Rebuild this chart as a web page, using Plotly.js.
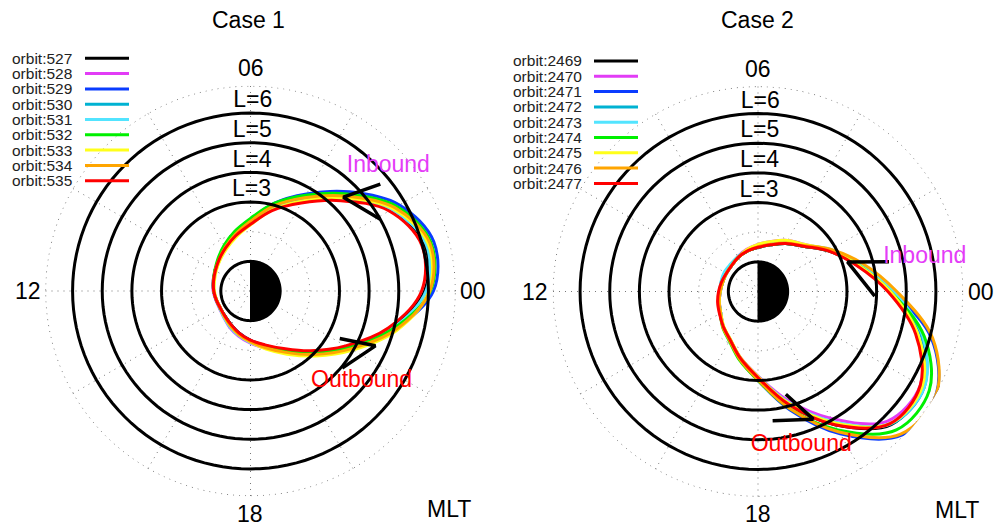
<!DOCTYPE html>
<html>
<head>
<meta charset="utf-8">
<script src="https://cdn.plot.ly/plotly-3.0.1.min.js"></script>
<style>html,body{margin:0;padding:0;background:#fff}#chart{width:1005px;height:529px}</style>
</head>
<body>
<div id="chart"></div>
<script>
// ---------------- DATA ----------------
// MLT sample hours (00 = right, 06 = top, 12 = left, 18 = bottom)
const mltHours = [0,1,2,3,4,5,6,7,8,9,10,11,12,13,14,15,16,17,18,19,20,21,22,23];

const orbitColors = ['#000000','#e23cf6','#0a3cff','#00b2d2','#52e4ff','#00f000','#ffff1a','#ffa500','#ff0000'];

// Case 1: L-shell of each orbit at each MLT hour
const case1Names = ['orbit:527','orbit:528','orbit:529','orbit:530','orbit:531','orbit:532','orbit:533','orbit:534','orbit:535'];
const orbit527 = [5.87,6.08,5.48,4.39,3.49,2.85,2.27,1.93,1.68,1.50,1.37,1.29,1.24,1.19,1.17,1.21,1.31,1.47,1.66,1.92,2.29,2.90,3.75,4.86];
const orbit528 = [5.95,6.16,5.52,4.43,3.53,2.87,2.27,1.93,1.68,1.50,1.38,1.31,1.26,1.21,1.20,1.27,1.41,1.57,1.76,2.00,2.39,3.03,3.88,5.01];
const orbit529 = [6.17,6.40,5.80,4.73,3.78,3.06,2.40,2.01,1.73,1.50,1.37,1.29,1.24,1.19,1.17,1.21,1.31,1.47,1.66,1.90,2.29,2.93,3.82,5.01];
const orbit530 = [5.97,6.18,5.55,4.46,3.55,2.89,2.28,1.93,1.68,1.50,1.37,1.29,1.24,1.19,1.18,1.24,1.36,1.52,1.71,1.96,2.34,2.97,3.82,4.96];
const orbit531 = [5.92,6.13,5.50,4.41,3.51,2.86,2.25,1.91,1.65,1.47,1.35,1.27,1.23,1.19,1.19,1.26,1.39,1.55,1.74,1.98,2.34,2.95,3.80,4.93];
const orbit532 = [6.07,6.30,5.70,4.63,3.73,3.06,2.45,2.08,1.78,1.55,1.39,1.30,1.24,1.19,1.17,1.21,1.32,1.49,1.68,1.93,2.32,2.93,3.80,4.96];
const orbit533 = [6.02,6.20,5.55,4.43,3.51,2.83,2.23,1.88,1.63,1.46,1.34,1.26,1.22,1.18,1.17,1.24,1.36,1.52,1.72,2.03,2.46,3.10,3.98,5.11];
const orbit534 = [6.05,6.26,5.62,4.53,3.63,2.96,2.35,1.98,1.70,1.50,1.37,1.29,1.24,1.19,1.17,1.23,1.36,1.52,1.71,1.98,2.39,3.03,3.90,5.06];
const orbit535 = [5.77,5.98,5.40,4.31,3.43,2.81,2.25,1.93,1.68,1.50,1.37,1.29,1.24,1.19,1.17,1.21,1.31,1.47,1.66,1.88,2.24,2.85,3.70,4.81];

// Case 2
const case2Names = ['orbit:2469','orbit:2470','orbit:2471','orbit:2472','orbit:2473','orbit:2474','orbit:2475','orbit:2476','orbit:2477'];
const orbit2469 = [4.43,3.46,2.74,2.16,1.87,1.63,1.49,1.41,1.33,1.25,1.23,1.25,1.30,1.38,1.48,1.66,1.88,2.32,2.90,3.93,5.19,6.35,6.37,5.55];
const orbit2470 = [4.43,3.46,2.77,2.24,1.99,1.75,1.59,1.47,1.36,1.25,1.23,1.23,1.27,1.35,1.45,1.66,1.88,2.30,2.85,3.78,4.94,6.18,6.32,5.55];
const orbit2471 = [4.53,3.51,2.77,2.16,1.87,1.63,1.49,1.41,1.33,1.25,1.23,1.23,1.27,1.35,1.45,1.66,1.90,2.37,3.00,4.13,5.54,6.85,6.94,6.05];
const orbit2472 = [4.53,3.55,2.82,2.20,1.91,1.67,1.51,1.43,1.35,1.29,1.28,1.28,1.29,1.36,1.45,1.66,1.88,2.32,2.88,3.88,5.11,6.33,6.47,5.70];
const orbit2473 = [4.58,3.58,2.84,2.21,1.92,1.68,1.52,1.43,1.36,1.31,1.31,1.29,1.29,1.36,1.45,1.66,1.88,2.32,2.87,3.85,5.07,6.30,6.47,5.75];
const orbit2474 = [4.46,3.48,2.76,2.16,1.87,1.63,1.49,1.41,1.33,1.25,1.23,1.23,1.28,1.37,1.47,1.69,1.93,2.40,3.00,4.08,5.39,6.60,6.67,5.80];
const orbit2475 = [4.46,3.48,2.79,2.24,1.99,1.75,1.59,1.46,1.33,1.25,1.23,1.23,1.27,1.35,1.45,1.64,1.86,2.30,2.87,3.88,5.11,6.30,6.40,5.58];
const orbit2476 = [4.68,3.65,2.84,2.19,1.89,1.65,1.51,1.41,1.33,1.25,1.23,1.23,1.28,1.36,1.46,1.68,1.91,2.37,2.98,4.08,5.47,6.80,6.94,6.10];
const orbit2477 = [4.38,3.43,2.74,2.16,1.87,1.63,1.49,1.41,1.33,1.25,1.23,1.27,1.33,1.41,1.50,1.66,1.88,2.32,2.90,3.93,5.19,6.30,6.32,5.50];

// Reference L shells and labels
const lShells = [3,4,5,6];
const lLabels = ['L=3','L=4','L=5','L=6'];
const hourTickHours = [0,6,12,18];
const hourTickLabels = ['00','06','12','18'];

// Direction chevrons (L, MLT hour)
const c1InR = [5.67,4.45,5.00], c1InH = [2.63,3.02,1.93];
const c1OutR = [3.41,4.60,4.04], c1OutH = [22.13,22.42,21.33];
const c2InR = [4.53,3.18,3.94], c2InH = [0.85,1.22,23.85];
const c2OutR = [3.59,4.69,4.39], c2OutH = [19.01,19.56,18.43];
// Annotation text positions (L, MLT hour)
const c1InText = [6.27, 2.81], c1OutText = [4.83, 21.39];
const c2InText = [5.74, 0.77], c2OutText = [5.37, 19.05];
const mltTextPos = [9.95, 20.82];

// ---------------- BUILD ----------------
const FONT = 'Liberation Sans, Arial, Helvetica, sans-serif';
const RMAX = 6.93;
const DOTS = '1px,5px';
const h2d = h => h * 15;
const thetaClosed = mltHours.map(h2d).concat([h2d(mltHours[0])]);
const close = arr => arr.concat([arr[0]]);
const circleTheta = []; for (let a = 0; a <= 360; a += 3) circleTheta.push(a);
const nightTheta = []; for (let a = -90; a <= 90; a += 3) nightTheta.push(a);

function caseTraces(sub, orbits, inR, inH, outR, outH, inText, outText) {
  const tr = [];
  // outer dotted boundary
  tr.push({type:'scatterpolar', subplot:sub, mode:'lines', r:circleTheta.map(() => RMAX - 0.02), theta:circleTheta,
    line:{color:'#777', width:1, dash:DOTS}, hoverinfo:'skip'});
  orbits.forEach((r, i) => {
    tr.push({type:'scatterpolar', subplot:sub, mode:'lines', r:close(r), theta:thetaClosed,
      line:{color:orbitColors[i], width:3, shape:'spline'}, hoverinfo:'skip'});
  });
  lShells.forEach(L => {
    tr.push({type:'scatterpolar', subplot:sub, mode:'lines', r:circleTheta.map(() => L), theta:circleTheta,
      line:{color:'#000', width:3}, hoverinfo:'skip'});
  });
  // Earth: night half filled, outline
  tr.push({type:'scatterpolar', subplot:sub, mode:'lines', r:nightTheta.map(() => 1).concat([0, 1]),
    theta:nightTheta.concat([0, -90]), fill:'toself', fillcolor:'#000', line:{color:'#000', width:1}, hoverinfo:'skip'});
  tr.push({type:'scatterpolar', subplot:sub, mode:'lines', r:circleTheta.map(() => 1), theta:circleTheta,
    line:{color:'#000', width:3}, hoverinfo:'skip'});
  // chevrons
  [[inR, inH], [outR, outH]].forEach(([r, h]) => {
    tr.push({type:'scatterpolar', subplot:sub, mode:'lines', r:r, theta:h.map(h2d),
      line:{color:'#000', width:3.5}, hoverinfo:'skip'});
  });
  // L labels
  tr.push({type:'scatterpolar', subplot:sub, mode:'text', r:lShells, theta:lShells.map(() => 89.3),
    text:lLabels, textposition:'top center', textfont:{family:FONT, size:23, color:'#000'}, hoverinfo:'skip', cliponaxis:false});
  tr.push({type:'scatterpolar', subplot:sub, mode:'text', r:[inText[0]], theta:[h2d(inText[1])],
    text:['Inbound'], textposition:'middle center', textfont:{family:FONT, size:23, color:'#e43cf7'}, hoverinfo:'skip', cliponaxis:false});
  tr.push({type:'scatterpolar', subplot:sub, mode:'text', r:[outText[0]], theta:[h2d(outText[1])],
    text:['Outbound'], textposition:'middle center', textfont:{family:FONT, size:23, color:'#ff0000'}, hoverinfo:'skip', cliponaxis:false});
  return tr;
}

const data = [].concat(
  caseTraces('polar', [orbit527,orbit528,orbit529,orbit530,orbit531,orbit532,orbit533,orbit534,orbit535],
    c1InR, c1InH, c1OutR, c1OutH, c1InText, c1OutText),
  caseTraces('polar2', [orbit2469,orbit2470,orbit2471,orbit2472,orbit2473,orbit2474,orbit2475,orbit2476,orbit2477],
    c2InR, c2InH, c2OutR, c2OutH, c2InText, c2OutText)
);

const W = 1005, H = 529, RPX = 205.5;
const centers = [[250.5, 291], [758, 291.5]];
function polarLayout(cx, cy, R) {
  return {
    domain:{x:[(cx - R) / W, (cx + R) / W], y:[(H - cy - R) / H, (H - cy + R) / H]},
    bgcolor:'rgba(0,0,0,0)',
    radialaxis:{range:[0, RMAX], showticklabels:false, ticks:'', showline:false,
      tickmode:'array', tickvals:[2, 4, 6], showgrid:true, griddash:DOTS, gridcolor:'#777', gridwidth:1},
    angularaxis:{rotation:0, direction:'counterclockwise', showticklabels:false, ticks:'', showline:false,
      tickmode:'linear', tick0:0, dtick:30, showgrid:true, griddash:DOTS, gridcolor:'#777', gridwidth:1}
  };
}
// position (paper) of a point given in (L, MLT hour) for subplot k, following the polar geometry
function polarToPaper(k, r, hour) {
  const [cx, cy] = centers[k];
  const a = h2d(hour) * Math.PI / 180, rp = r / RMAX * RPX;
  return [(cx + rp * Math.cos(a)) / W, (H - (cy - rp * Math.sin(a))) / H];
}

const annotations = [
  {text:'Case 1', x:248 / W, y:1 - 20 / H, xref:'paper', yref:'paper', xanchor:'center', yanchor:'middle', showarrow:false, font:{family:FONT, size:23, color:'#000'}},
  {text:'Case 2', x:757 / W, y:1 - 20 / H, xref:'paper', yref:'paper', xanchor:'center', yanchor:'middle', showarrow:false, font:{family:FONT, size:23, color:'#000'}}
];
[0, 1].forEach(k => {
  hourTickHours.forEach((h, i) => {
    const [x, y] = polarToPaper(k, RMAX * 1.085, h);
    annotations.push({text:hourTickLabels[i], x:x, y:y, xref:'paper', yref:'paper', xanchor:'center', yanchor:'middle',
      showarrow:false, font:{family:FONT, size:23, color:'#000'}});
  });
  const [mx, my] = polarToPaper(k, mltTextPos[0], mltTextPos[1]);
  annotations.push({text:'MLT', x:mx, y:my, xref:'paper', yref:'paper', xanchor:'center', yanchor:'middle',
    showarrow:false, font:{family:FONT, size:23, color:'#000'}});
});

const shapes = [];
function addLegend(names, textX, lineX0, lineX1, y0, dy) {
  names.forEach((n, i) => {
    const y = 1 - (y0 + dy * i) / H;
    annotations.push({text:n, x:textX / W, y:y, xref:'paper', yref:'paper', xanchor:'left', yanchor:'middle',
      showarrow:false, font:{family:FONT, size:15.5, color:'#222'}});
    shapes.push({type:'line', xref:'paper', yref:'paper', x0:lineX0 / W, x1:lineX1 / W, y0:y, y1:y,
      line:{color:orbitColors[i], width:3}});
  });
}
addLegend(case1Names, 10, 85, 129, 58.3, 15.3);
addLegend(case2Names, 511, 594, 638, 61, 15.3);

const layout = {
  width:W, height:H, margin:{l:0, r:0, t:0, b:0},
  paper_bgcolor:'#fff', plot_bgcolor:'#fff', showlegend:false,
  font:{family:FONT},
  polar:polarLayout(centers[0][0], centers[0][1], RPX),
  polar2:polarLayout(centers[1][0], centers[1][1], RPX),
  annotations:annotations, shapes:shapes
};

Plotly.newPlot('chart', data, layout, {staticPlot:true, displayModeBar:false});
</script>
</body>
</html>
